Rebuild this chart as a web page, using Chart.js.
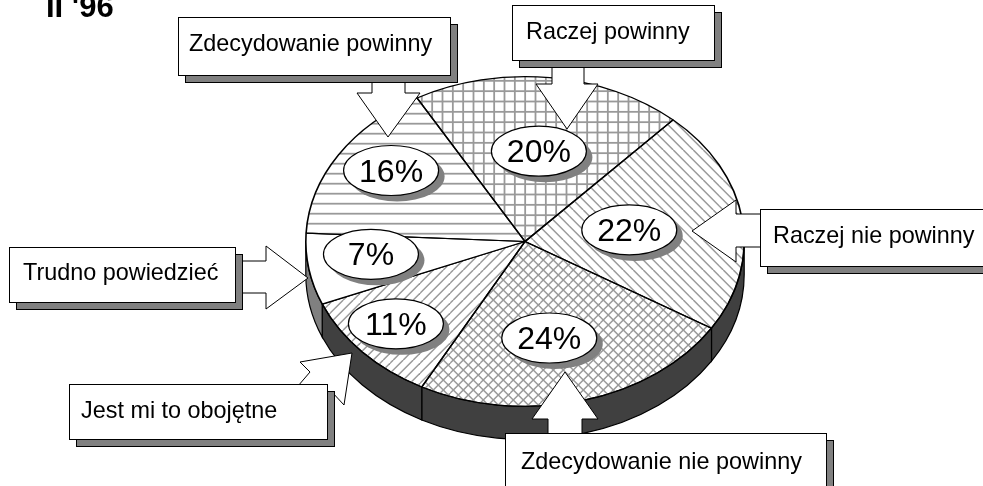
<!DOCTYPE html>
<html>
<head>
<meta charset="utf-8">
<style>html,body{margin:0;padding:0;background:#fff;overflow:hidden}canvas{display:block}</style>
<script src="https://cdn.jsdelivr.net/npm/chart.js@4/dist/chart.umd.min.js"></script>
</head>
<body>
<canvas id="c" width="983" height="486"></canvas>
<script>
const categories = ['Raczej powinny','Raczej nie powinny','Zdecydowanie nie powinny','Jest mi to obojętne','Trudno powiedzieć','Zdecydowanie powinny'];
const values = [20,22,24,11,7,16];
const title = "II '96";

const FONT = '"Liberation Sans", Arial, sans-serif';
const SQUASH = 165.5/220, DEPTH = 33, ROT = 330.5;
const CX = 525, CY = 241.5;
const GREY = '#999999', SHADOW = '#808080';

function tile(size, width, draw){
  const c = document.createElement('canvas'); c.width = c.height = size;
  const g = c.getContext('2d'); g.strokeStyle = GREY; g.lineWidth = width;
  draw(g, size);
  const p = document.createElement('canvas').getContext('2d').createPattern(c,'repeat');
  p.setTransform(new DOMMatrix().translate(CX,CY).scale(1,1/SQUASH).translate(-CX,-CY));
  return p;
}
function seg(g,a,b,c,d){g.beginPath();g.moveTo(a,b);g.lineTo(c,d);g.stroke();}
const hLines = tile(30,1.8,(g,s)=>{for(let i=0;i<3;i++){const y=3.7+i*s/3;seg(g,0,y,s,y);}});
const grid = tile(31,1.8,(g,s)=>{for(let i=0;i<3;i++){const p=8.5+i*s/3;seg(g,0,p,s,p);seg(g,p,0,p,s);}});
function back(g,s){for(let i=-s;i<s*2;i+=s/3){seg(g,i+3.3,0,i+3.3+s,s);}}
function fwd(g,s){for(let i=-s;i<s*2;i+=s/3){seg(g,i+s+3.3,0,i+3.3,s);}}
const diagBack = tile(30,1.5,back);
const diagFwd = tile(30,1.5,fwd);
const cross = tile(30,1.5,(g,s)=>{back(g,s);fwd(g,s);});
const fills = [grid,diagBack,cross,diagFwd,'#ffffff',hLines];
const wallColors = [null,'#404040','#404040','#404040','#808080',null];

// label ellipse placement, relative to each slice's mid-radius point
const badgeNudge = [[-1,8],[-26,2],[-10,1],[-31.5,16],[-24.4,-3.8],[-22,-19]];

const callouts = [
 {i:5,box:[178,17,272,58],tx:189,ty:51,arrow:[[372,80],[372,93],[357,93],[388,137],[420,93],[405,93],[405,80]]},
 {i:0,box:[512,5,202,55],tx:526,ty:39,arrow:[[552,66],[552,84],[536,84],[567,129],[598,84],[584,84],[584,66]]},
 {i:1,box:[760,209,240,57],tx:773,ty:243,arrow:[[762,214],[736,214],[736,200],[692,231],[736,262],[736,247],[762,247]]},
 {i:2,box:[505,433,321,56],tx:521,ty:469,arrow:[[548,436],[548,419],[532,419],[565,372],[598,419],[582,419],[582,436]]},
 {i:3,box:[69,384,258,55],tx:81,ty:418,arrow:[[298,386],[310,372],[300,362],[352,353],[344,405],[331,391]]},
 {i:4,box:[9,247,226,55],tx:23,ty:280,arrow:[[243,261],[266,261],[266,246],[308,278],[266,309],[266,293],[243,293]]}
];

const pie3d = {
  id:'pie3d',
  beforeDatasetsDraw(chart){
    const ctx = chart.ctx, arcs = chart.getDatasetMeta(0).data;
    const a0 = arcs[0], x = a0.x, y = a0.y, R = a0.outerRadius, r = R*SQUASH;
    ctx.save();
    ctx.lineWidth = 1.2; ctx.strokeStyle = '#000';
    arcs.forEach((a,i)=>{
      if(!wallColors[i]) return;
      for(const k of [0,Math.PI*2]){
        const lo = Math.max(a.startAngle,k), hi = Math.min(a.endAngle,k+Math.PI);
        if(hi<=lo) continue;
        ctx.beginPath();
        ctx.ellipse(x,y,R,r,0,lo,hi);
        ctx.ellipse(x,y+DEPTH,R,r,0,hi,lo,true);
        ctx.closePath();
        ctx.fillStyle = wallColors[i];
        ctx.fill(); ctx.stroke();
      }
    });
    ctx.restore();
    ctx.save();
    ctx.translate(x,y); ctx.scale(1,SQUASH); ctx.translate(-x,-y);
  },
  afterDatasetsDraw(chart){
    const ctx = chart.ctx;
    ctx.restore();
    const arcs = chart.getDatasetMeta(0).data;
    // value ellipses
    arcs.forEach((a,i)=>{
      const mid = (a.startAngle+a.endAngle)/2, f = a.outerRadius*0.6;
      const bx = a.x+Math.cos(mid)*f+badgeNudge[i][0];
      const by = a.y+Math.sin(mid)*f*SQUASH+badgeNudge[i][1];
      ctx.lineWidth = 1.2; ctx.strokeStyle='#000';
      ctx.beginPath(); ctx.ellipse(bx+6,by+6,47.5,25,0,0,Math.PI*2);
      ctx.fillStyle=SHADOW; ctx.fill();
      ctx.beginPath(); ctx.ellipse(bx,by,47.5,25,0,0,Math.PI*2);
      ctx.fillStyle='#fff'; ctx.fill(); ctx.stroke();
      ctx.fillStyle='#000'; ctx.font='32px '+FONT;
      ctx.textAlign='center'; ctx.textBaseline='alphabetic';
      ctx.fillText(values[i]+'%',bx,by+11);
    });
    // callouts
    callouts.forEach(c=>{
      ctx.lineWidth=1; ctx.strokeStyle='#000';
      ctx.beginPath();
      c.arrow.forEach((p,j)=> j?ctx.lineTo(p[0],p[1]):ctx.moveTo(p[0],p[1]));
      ctx.fillStyle='#fff';
      ctx.fill(); ctx.stroke();
      const [bx,by,bw,bh]=c.box;
      ctx.fillStyle=SHADOW; ctx.fillRect(bx+7,by+7,bw,bh);
      ctx.strokeRect(bx+7.5,by+7.5,bw,bh);
      ctx.fillStyle='#fff'; ctx.fillRect(bx,by,bw,bh);
      ctx.strokeRect(bx+.5,by+.5,bw,bh);
      ctx.fillStyle='#000'; ctx.font='23.4px '+FONT;
      ctx.textAlign='left'; ctx.textBaseline='alphabetic';
      ctx.fillText(categories[c.i],c.tx,c.ty);
    });
    ctx.fillStyle='#000'; ctx.font='bold 31px '+FONT;
    ctx.textAlign='left'; ctx.textBaseline='alphabetic';
    ctx.fillText(title,46,17);
  }
};

new Chart(document.getElementById('c'),{
  type:'pie',
  data:{labels:categories,datasets:[{data:values,backgroundColor:fills,borderColor:'#000',borderWidth:1.6,hoverOffset:0}]},
  options:{
    responsive:false,animation:false,rotation:ROT,
    layout:{padding:{left:CX-220,right:983-CX-220,top:CY-220,bottom:486-CY-220}},
    plugins:{legend:{display:false},tooltip:{enabled:false}},
    events:[]
  },
  plugins:[pie3d]
});
</script>
</body>
</html>
